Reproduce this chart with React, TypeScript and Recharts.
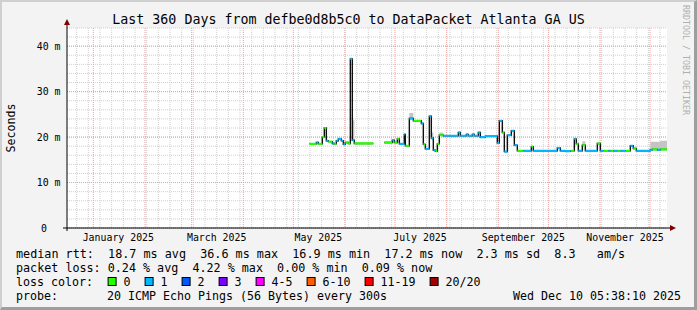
import React from 'react';
import { ComposedChart, Line, Area, XAxis, YAxis, CartesianGrid } from 'recharts';

// x values are days since 2025-01-01 (local), one entry per median step
const START_DAY = -15.8;
const END_DAY = 344.2;

const STEP_DAYS = [
  129.6, 133.8, 135.0, 137.4, 138.6, 139.8, 141.0, 143.4, 144.6, 145.8,
  147.0, 148.8, 150.0, 151.2, 153.0, 154.2, 155.4, 156.6, 168.0,
  174.6, 179.4, 180.6, 182.4, 183.6, 186.6, 187.2, 189.6, 192.0, 196.8,
  198.0, 199.2, 201.6, 202.8, 204.0, 205.2, 206.4, 207.6, 210.0, 219.0,
  220.2, 223.8, 225.0, 227.4, 228.6, 231.0, 232.2, 235.2, 242.4, 243.6,
  245.4, 246.6, 248.4, 250.8, 252.6, 254.4, 258.0, 262.8, 264.0, 278.4,
  280.2, 283.2, 286.2, 288.6, 289.8, 291.0, 293.4, 295.2, 302.4, 304.2,
  306.0, 309.0, 310.2, 312.0, 314.4, 316.2, 319.2, 322.2, 324.0, 325.8,
  334.2, 335.4, 338.4, 340.2,
];

// median rtt in ms (null = no data)
const MEDIAN_MS = [
  18.5, 18.8, 18.5, 20.0, 22.0, 19.2, 19.0, 18.6, 18.5, 19.2,
  19.6, 19.2, 18.4, 18.8, 18.6, 37.2, 19.3, 18.6, null,
  18.8, 19.3, 18.8, 19.6, 18.5, 20.6, 18.1, 24.1, 23.6, 23.0,
  18.4, 17.4, 24.6, 19.8, 17.1, 16.9, 18.5, 20.4, 20.3, 21.0,
  20.3, 20.6, 20.3, 20.6, 20.3, 21.0, 20.0, 20.2, 18.7, 23.6,
  21.0, 16.8, 20.4, 21.4, 18.2, 17.0, 17.0, 17.9, 17.0, 17.6,
  17.0, 16.9, 17.0, 19.6, 18.5, 17.0, 18.2, 17.0, 18.6, 17.0,
  17.0, 17.0, 17.0, 17.0, 17.0, 17.0, 17.0, 18.1, 17.5, 17.0,
  17.2, 17.3, 17.2, 17.3,
];

// loss bucket: 0 -> "0", 1 -> "1"
const LOSS_BUCKET = [
  0, 1, 0, 0, 0, 1, 0, 1, 0, 1,
  1, 1, 1, 0, 0, 1, 1, 0, 0,
  0, 1, 0, 0, 1, 1, 0, 1, 0, 1,
  0, 1, 1, 1, 1, 0, 0, 0, 1, 1,
  1, 1, 1, 1, 1, 1, 1, 1, 1, 1,
  0, 1, 1, 1, 1, 0, 1, 0, 1, 1,
  1, 1, 0, 1, 0, 1, 0, 1, 0, 1,
  0, 1, 0, 1, 0, 1, 0, 1, 0, 1,
  1, 0, 1, 0,
];

// smoke (spread of the pings), null = none visible
const SMOKE_LO = [
  null, null, null, null, null, null, null, null, null, null,
  null, null, null, null, null, null, 19.3, null, null,
  null, null, null, null, null, null, null, 24.1, null, null,
  null, null, null, 19.3, null, null, null, 20.3, null, null,
  null, null, null, null, null, null, null, null, null, null,
  null, null, null, null, null, null, null, null, null, null,
  null, null, null, null, null, null, 18.2, null, null, null,
  null, null, null, null, null, null, null, null, null, null,
  17.0, 17.0, 17.0, 17.0,
];
const SMOKE_HI = [
  null, null, null, null, null, null, null, null, null, null,
  null, null, null, null, null, null, 23.7, null, null,
  null, null, null, null, null, null, null, 25.3, null, null,
  null, null, null, 21.0, null, null, null, 21.0, null, null,
  null, null, null, null, null, null, null, null, null, null,
  null, null, null, null, null, null, null, null, null, null,
  null, null, null, null, null, null, 19.1, null, null, null,
  null, null, null, null, null, null, null, null, null, null,
  19.0, 19.0, 19.0, 19.2,
];

const LOSS_LABELS = ['0', '1', '2', '3', '4-5', '6-10', '11-19', '20/20'];
const LOSS_COLORS = ['#26ff00', '#00b8ff', '#0059ff', '#7e00ff', '#ff00ff', '#ff5e00', '#ff0000', '#a10000'];

const MONTH_STARTS = [0, 31, 59, 90, 120, 151, 181, 212, 243, 273, 304, 334];
const LABEL_DAYS = [15, 74, 135, 196, 258, 319];
const LABEL_TEXT = ['January 2025', 'March 2025', 'May 2025', 'July 2025', 'September 2025', 'November 2025'];
const Y_MAJOR = [0, 10, 20, 30, 40];

const WEEK_DAYS: number[] = [];
for (let d = -10; d < END_DAY; d += 7) WEEK_DAYS.push(d);
const Y_MINOR: number[] = [];
for (let v = 0; v <= 44; v += 2) Y_MINOR.push(v);

const MONO = '"DejaVu Sans Mono", monospace';

const stepEnd = (i: number) => (i + 1 < STEP_DAYS.length ? STEP_DAYS[i + 1] : END_DAY);

const blackData: { day: number; v: number | null }[] = [];
STEP_DAYS.forEach((d, i) => {
  const m = MEDIAN_MS[i];
  if (m == null) blackData.push({ day: d, v: null });
  else blackData.push({ day: d, v: m }, { day: stepEnd(i), v: m });
});

// each coloured step is its own horizontal piece; the joins stay black
function lossData(bucket: number) {
  const out: { day: number; v: number | null }[] = [];
  STEP_DAYS.forEach((d, i) => {
    const m = MEDIAN_MS[i];
    if (m == null || LOSS_BUCKET[i] !== bucket) return;
    out.push({ day: d, v: null }, { day: d, v: m }, { day: stepEnd(i), v: m });
  });
  return out;
}

const smokeData: { day: number; range: number[] | null }[] = [];
STEP_DAYS.forEach((d, i) => {
  const lo = SMOKE_LO[i];
  const hi = SMOKE_HI[i];
  if (lo == null || hi == null) return;
  smokeData.push({ day: d, range: null }, { day: d, range: [lo, hi] }, { day: stepEnd(i), range: [lo, hi] });
});

const XTick = (props: any) => {
  const { x, y, payload } = props;
  const idx = LABEL_DAYS.indexOf(payload.value);
  return (
    <text x={x} y={y + 9.7} textAnchor="middle" dominantBaseline="central" fontFamily={MONO} fontSize={9.9} fill="#000">
      {LABEL_TEXT[idx]}
    </text>
  );
};

const YTick = (props: any) => {
  const { x, y, payload } = props;
  const v = payload.value;
  return (
    <text x={x + (v === 0 ? -20 : -6.5)} y={y} textAnchor="end" dominantBaseline="central" fontFamily={MONO} fontSize={9.9} fill="#000">
      {v === 0 ? '0' : `${v} m`}
    </text>
  );
};

export default function App() {
  let boxX = 107.6;
  const legendItems = LOSS_LABELS.map((label, i) => {
    const x = boxX;
    boxX += 16 + label.length * 7 + 14;
    return (
      <g key={label}>
        <rect x={x + 0.5} y={277.5} width={8} height={8} fill={LOSS_COLORS[i]} stroke="#000" strokeWidth={1} />
        <text x={x + 16} y={282} dominantBaseline="central">{label}</text>
      </g>
    );
  });

  return (
    <div style={{ position: 'absolute', left: 0, top: 0, width: 697, height: 310, background: '#f3f3f3', overflow: 'hidden' }}>
      <div style={{ position: 'absolute', left: 0, top: 0 }}>
        <ComposedChart width={697} height={310} margin={{ top: 28, right: 30, bottom: 62, left: 0 }}>
          <CartesianGrid horizontalValues={Y_MINOR} verticalValues={WEEK_DAYS} stroke="#cfcfcf" strokeDasharray="1 1" fill="#ffffff" />
          <CartesianGrid horizontalValues={Y_MAJOR} verticalValues={MONTH_STARTS} stroke="#eba0a0" strokeDasharray="1 1" />
          <XAxis
            type="number"
            dataKey="day"
            domain={[START_DAY, END_DAY]}
            allowDataOverflow
            ticks={LABEL_DAYS}
            interval={0}
            tick={<XTick />}
            tickLine={false}
            tickSize={0}
            tickMargin={0}
            axisLine={{ stroke: '#000' }}
            height={20}
          />
          <YAxis
            type="number"
            domain={[0, 44]}
            allowDataOverflow
            ticks={Y_MAJOR}
            interval={0}
            tick={<YTick />}
            tickLine={false}
            tickSize={0}
            tickMargin={0}
            axisLine={{ stroke: '#000' }}
            width={67}
          />
          <Area
            data={smokeData}
            dataKey="range"
            type="linear"
            stroke="none"
            fill="#c4c4c4"
            fillOpacity={1}
            isAnimationActive={false}
            connectNulls={false}
            dot={false}
            activeDot={false}
          />
          <Line
            data={blackData}
            dataKey="v"
            type="linear"
            stroke="#101010"
            strokeWidth={1.4}
            dot={false}
            activeDot={false}
            isAnimationActive={false}
            connectNulls={false}
          />
          {[0, 1].map((b) => (
            <Line
              key={b}
              data={lossData(b)}
              dataKey="v"
              type="linear"
              stroke={LOSS_COLORS[b]}
              strokeWidth={2.2}
              dot={false}
              activeDot={false}
              isAnimationActive={false}
              connectNulls={false}
            />
          ))}
        </ComposedChart>
      </div>
      <svg width={697} height={310} style={{ position: 'absolute', left: 0, top: 0, pointerEvents: 'none' }}>
        <line x1={67} y1={228} x2={67} y2={231} stroke="#000" />
        <line x1={67} y1={28} x2={67} y2={23} stroke="#000" />
        <polygon points="64,25 67,19 70,25" fill="#800000" />
        <line x1={63} y1={228} x2={67} y2={228} stroke="#000" />
        <line x1={667} y1={228} x2={671} y2={228} stroke="#000" />
        <polygon points="670,225 676,228 670,231" fill="#800000" />
        <text x={348.5} y={19.3} textAnchor="middle" dominantBaseline="central" fontFamily={MONO} fontSize={13.3} fill="#000">
          Last 360 Days from defbe0d8b5c0 to DataPacket Atlanta GA US
        </text>
        <text transform="translate(10.5,128) rotate(-90)" textAnchor="middle" dominantBaseline="central" fontFamily={MONO} fontSize={11.6} fill="#000">
          Seconds
        </text>
        <text transform="translate(685.5,60) rotate(90)" textAnchor="middle" dominantBaseline="central" fontFamily={MONO} fontSize={8.3} fill="#b0b0b0">
          RRDTOOL / TOBI OETIKER
        </text>
        <g fontFamily={MONO} fontSize={11.63} fill="#000">
          <text x={16} y={254} dominantBaseline="central" xmlSpace="preserve" fontSize={11.78}>
            {'median rtt:  18.7 ms avg  36.6 ms max  16.9 ms min  17.2 ms now  2.3 ms sd  8.3   am/s'}
          </text>
          <text x={16} y={268} dominantBaseline="central" xmlSpace="preserve" fontSize={11.72}>
            {'packet loss: 0.24 % avg  4.22 % max  0.00 % min  0.09 % now'}
          </text>
          <text x={16} y={282} dominantBaseline="central" xmlSpace="preserve">{'loss color:'}</text>
          {legendItems}
          <text x={16} y={296} dominantBaseline="central" xmlSpace="preserve">
            {'probe:       20 ICMP Echo Pings (56 Bytes) every 300s'}
          </text>
          <text x={681} y={296} textAnchor="end" dominantBaseline="central" xmlSpace="preserve">
            {'Wed Dec 10 05:38:10 2025'}
          </text>
        </g>
      </svg>
      <div
        style={{
          position: 'absolute',
          inset: 0,
          boxSizing: 'border-box',
          borderTop: '2px solid #cfcfcf',
          borderLeft: '2px solid #cfcfcf',
          borderRight: '3px solid #9e9e9e',
          borderBottom: '3px solid #9e9e9e',
          pointerEvents: 'none',
        }}
      />
    </div>
  );
}
